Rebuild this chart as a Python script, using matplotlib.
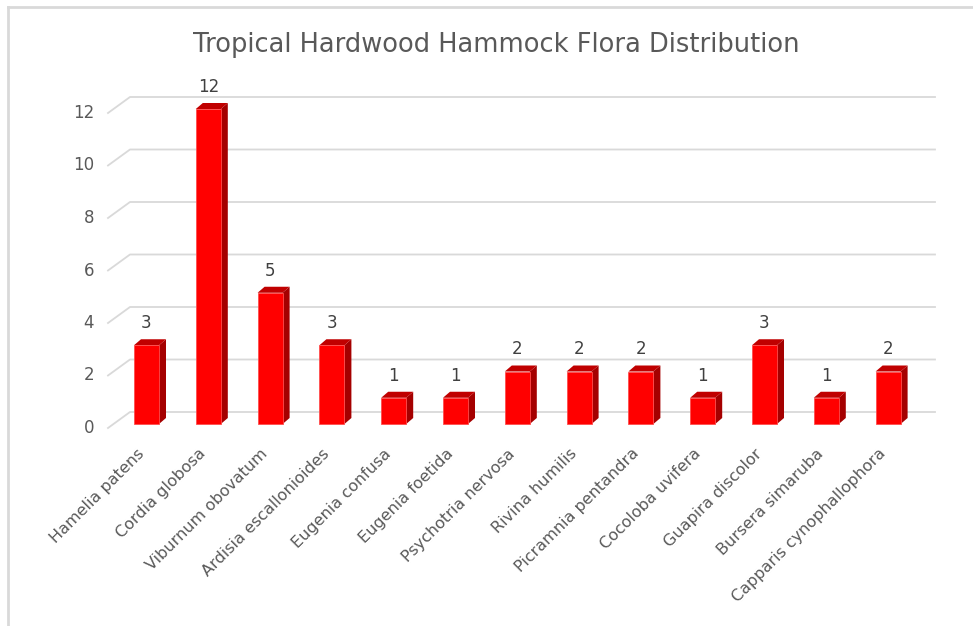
import numpy as np
import matplotlib.pyplot as plt
from matplotlib.patches import Polygon

species = ['Hamelia patens', 'Cordia globosa', 'Viburnum obovatum',
           'Ardisia escallonioides', 'Eugenia confusa', 'Eugenia foetida',
           'Psychotria nervosa', 'Rivina humilis', 'Picramnia pentandra',
           'Cocoloba uvifera', 'Guapira discolor', 'Bursera simaruba',
           'Capparis cynophallophora']
counts = [3, 12, 5, 3, 1, 1, 2, 2, 2, 1, 3, 1, 2]
yticks = [0, 2, 4, 6, 8, 10, 12]

# pixel geometry of the fake 3d view
W, H = 973, 626
x0px, xstep = 146.5, 61.8        # centre of first bar, spacing
y0px, ystep = 424.0, 26.25       # base of bars, px per unit

fig = plt.figure(figsize=(W/100, H/100), dpi=100)
ax = fig.add_axes([0, 0, 1, 1])
ax.set_xlim(-x0px/xstep, (W-x0px)/xstep)
ax.set_ylim((y0px-H)/ystep, y0px/ystep)
ax.axis('off')

px = 1.0/xstep   # one pixel in x data units
py = 1.0/ystep   # one pixel in y data units

# chart border (only top and left visible)
ax.plot([8*px - x0px/xstep]*2, [(y0px-H)/ystep, (y0px-7)/ystep], color='#d9d9d9', lw=2, clip_on=False)
ax.plot([8*px - x0px/xstep, (W-x0px)/xstep], [(y0px-7)/ystep]*2, color='#d9d9d9', lw=2, clip_on=False)

# gridlines on the back wall + diagonal on the side wall
fx = (108-x0px)*px
bx = (130-x0px)*px
ex = (935-x0px)*px
front_off = (y0px-428)*py
back_off = (y0px-412)*py
for t in yticks:
    ax.plot([fx, bx, ex], [t+front_off, t+back_off, t+back_off],
            color='#d9d9d9', lw=1.3, zorder=1)
    ax.text(fx - 14*px, t+front_off, str(t), ha='right', va='center',
            fontsize=12, color='#595959')

# bars
x = np.arange(len(species))
bw = 25*px
ddx, ddy = 7*px, 6*py
ax.bar(x, counts, width=bw, color='#ff0000', edgecolor='#ff4d4d', lw=0.6, zorder=3)
for xi, v in zip(x, counts):
    l, r = xi - bw/2, xi + bw/2
    side = Polygon([(r, 0), (r+ddx, ddy), (r+ddx, v+ddy), (r, v)],
                   closed=True, fc='#a50000', ec='none', zorder=2)
    top = Polygon([(l, v), (l+ddx, v+ddy), (r+ddx, v+ddy), (r, v)],
                  closed=True, fc='#c00000', ec='none', zorder=2)
    ax.add_patch(side)
    ax.add_patch(top)
    ax.text(xi, v + 22*py, str(v), ha='center', va='center',
            fontsize=12, color='#404040')

# category labels
for xi, name in zip(x, species):
    ax.text(xi - 10*px, (y0px-446)*py, name, rotation=45, ha='right', va='top',
            rotation_mode='anchor', fontsize=11.5, color='#595959')

ax.text((496-x0px)*px, (y0px-45)*py, 'Tropical Hardwood Hammock Flora Distribution',
        ha='center', va='center', fontsize=18.5, color='#595959')

fig.savefig('out.png', dpi=100)
